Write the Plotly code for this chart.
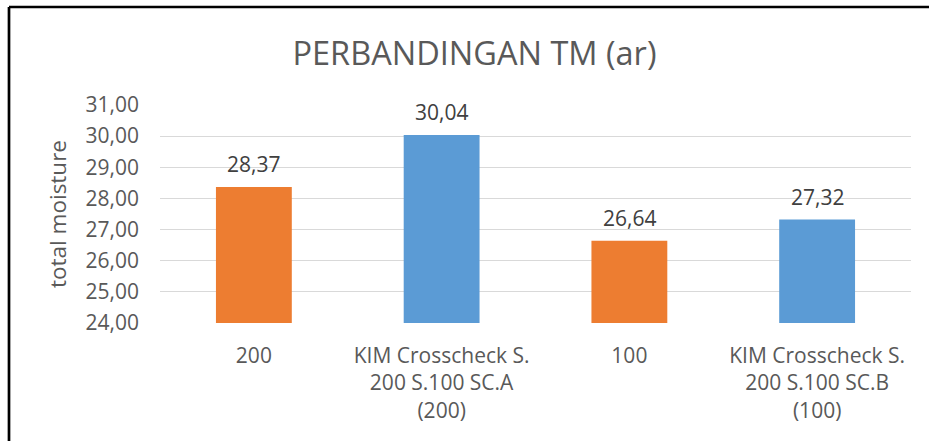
import plotly.graph_objects as go

categories = ["200", "KIM Crosscheck S.<br>200 S.100 SC.A<br>(200)", "100", "KIM Crosscheck S.<br>200 S.100 SC.B<br>(100)"]
values = [28.37, 30.04, 26.64, 27.32]
bar_colors = ["#ED7D31", "#5B9BD5", "#ED7D31", "#5B9BD5"]
y_ticks = [24, 25, 26, 27, 28, 29, 30, 31]

W, H = 929, 441
L, R, T, B = 160, 18, 105, 118
pw, ph = W - L - R, H - T - B
FONT = "Open Sans"

fig = go.Figure()
fig.add_trace(go.Bar(
    x=categories, y=values, marker=dict(color=bar_colors, line=dict(width=0)),
    width=0.404, hoverinfo="skip", cliponaxis=False,
))

for i, v in enumerate(values):
    fig.add_annotation(x=i, y=v, text=f"{v:.2f}".replace(".", ","), showarrow=False,
                       yanchor="bottom", yshift=7,
                       font=dict(family=FONT, size=21, color="#404040"))

bx = (9 - L) / pw
by = (H - B - 7) / ph
fig.add_shape(type="line", xref="paper", yref="paper", x0=bx, x1=bx, y0=-2, y1=by,
              line=dict(color="black", width=2.7))
fig.add_shape(type="line", xref="paper", yref="paper", x0=bx, x1=2, y0=by, y1=by,
              line=dict(color="black", width=2.7))

fig.update_layout(
    width=W, height=H, margin=dict(l=L, r=R, t=T, b=B, autoexpand=False),
    paper_bgcolor="white", plot_bgcolor="white",
    separators=",.",
    showlegend=False,
    font=dict(family=FONT, color="#595959"),
    title=dict(text="PERBANDINGAN TM (ar)", x=474.5 / W, xanchor="center",
               y=1 - 54 / H, yanchor="middle", xref="container", yref="container",
               font=dict(family=FONT, size=32.5, color="#595959")),
    xaxis=dict(type="category", showgrid=False, showline=False, zeroline=False, ticks="",
               tickfont=dict(family=FONT, size=21, color="#595959"),
               ticklabelstandoff=18, fixedrange=True),
    yaxis=dict(range=[24, 31], tickvals=y_ticks, tickformat=".2f",
               showgrid=True, gridcolor="#D9D9D9", gridwidth=1, zeroline=False,
               showline=False, ticks="",
               tickfont=dict(family=FONT, size=21, color="#595959"),
               ticklabelstandoff=20,
               title=dict(text="total moisture", standoff=12,
                          font=dict(family=FONT, size=22.5, color="#595959")),
               fixedrange=True),
)
fig.write_html("out.html", config={"displayModeBar": False},
               post_script="document.body.style.margin='0';")
